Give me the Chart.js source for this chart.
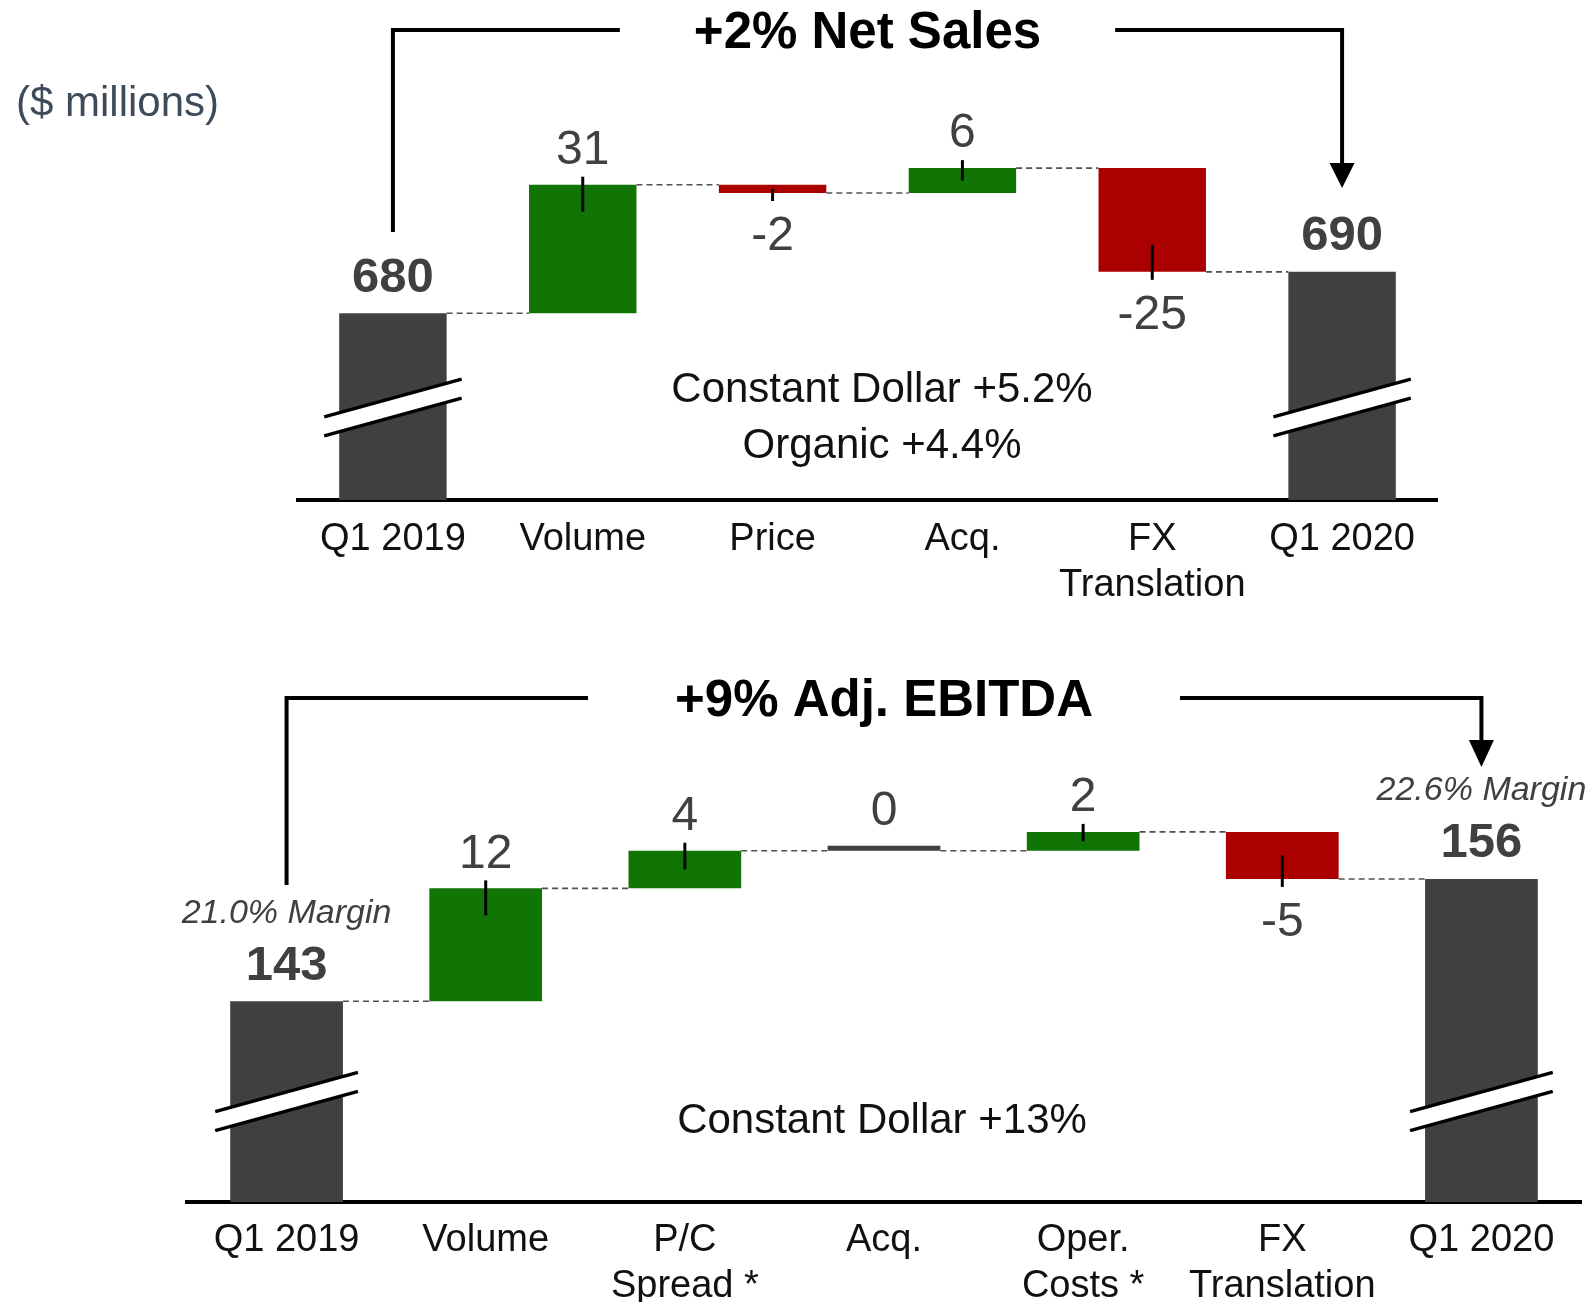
<!DOCTYPE html>
<html><head><meta charset="utf-8">
<script src="https://cdn.jsdelivr.net/npm/chart.js@4.4.1/dist/chart.umd.min.js"></script>
<style>
html,body{margin:0;padding:0;background:#fff;}
#wrap{position:relative;width:1589px;height:1304px;overflow:hidden;background:#fff;}
canvas{position:absolute;left:0;}
</style></head><body>
<div id="wrap">
<canvas id="sales" width="1589" height="610" style="top:0"></canvas>
<canvas id="ebitda" width="1589" height="694" style="top:610px"></canvas>
</div>
<script>
// ---------------- data ----------------
const unitsLabel = '($ millions)';

const salesCategories = ['Q1 2019', 'Volume', 'Price', 'Acq.', ['FX', 'Translation'], 'Q1 2020'];
const salesStart = 680;
const salesDeltas = [31, -2, 6, -25];
const salesEnd = 690;
const salesTitle = '+2% Net Sales';
const salesNotes = ['Constant Dollar +5.2%', 'Organic +4.4%'];
const salesAxisRange = [635.0, 726.6];

const ebitdaCategories = ['Q1 2019', 'Volume', ['P/C', 'Spread *'], 'Acq.', ['Oper.', 'Costs *'], ['FX', 'Translation'], 'Q1 2020'];
const ebitdaStart = 143;
const ebitdaDeltas = [12, 4, 0, 2, -5];
const ebitdaEnd = 156;
const ebitdaMargins = ['21.0% Margin', '22.6% Margin'];
const ebitdaTitle = '+9% Adj. EBITDA';
const ebitdaNotes = ['Constant Dollar +13%'];
const ebitdaAxisRange = [121.67, 168.64];

// ---------------- styles ----------------
const FONT = '"Liberation Sans", Arial, Helvetica, sans-serif';
const C_TOTAL = '#404040', C_UP = '#107505', C_DOWN = '#aa0000';
const TXT_DY = 3; // small vertical nudge of text

function strokeLine(ctx, x1, y1, x2, y2) {
  ctx.beginPath(); ctx.moveTo(x1, y1); ctx.lineTo(x2, y2); ctx.stroke();
}

const decoPlugin = {
  id: 'deco',
  afterDatasetsDraw(chart, args, o) {
    const ctx = chart.ctx, ys = chart.scales.y, xs = chart.scales.x, area = chart.chartArea;
    const tot = chart.getDatasetMeta(0).data, del = chart.getDatasetMeta(1).data;
    const n = o.levels.length;
    const geo = i => ((i === 0 || i === n - 1) ? tot[i] : del[i]).getProps(['x', 'y', 'base', 'width'], true);
    ctx.save();
    ctx.lineCap = 'butt';
    // dashed connectors
    ctx.strokeStyle = '#505050'; ctx.lineWidth = 1.6; ctx.setLineDash([6, 4]);
    for (let i = 0; i < n - 1; i++) {
      const a = geo(i), b = geo(i + 1), py = ys.getPixelForValue(o.levels[i]);
      strokeLine(ctx, a.x + a.width / 2, py, b.x - b.width / 2, py);
    }
    ctx.setLineDash([]);
    ctx.textAlign = 'center'; ctx.textBaseline = 'middle';
    // delta ticks + labels
    for (let i = 1; i < n - 1; i++) {
      const d = o.deltas[i - 1], g = geo(i);
      const top = Math.min(g.y, g.base), bot = Math.max(g.y, g.base), h = bot - top;
      ctx.strokeStyle = '#000'; ctx.lineWidth = 3;
      if (d > 0) strokeLine(ctx, g.x, top - 8, g.x, top + Math.min(27, h / 2));
      else if (d < 0) strokeLine(ctx, g.x, bot + 8, g.x, bot - Math.min(27, h / 2));
      ctx.fillStyle = '#404040'; ctx.font = '48px ' + FONT;
      const ty = d > 0 ? top - 37 : d < 0 ? bot + 41 : (top + bot) / 2 - 39;
      ctx.fillText(String(d), g.x, ty + TXT_DY);
    }
    // totals: break marks + labels
    [0, n - 1].forEach((i, k) => {
      const g = geo(i);
      const half = g.width / 2 + 15, dy = half * 0.275, yc = area.bottom - o.breakOffset, gap = 19;
      ctx.fillStyle = '#fff';
      ctx.beginPath();
      ctx.moveTo(g.x - half, yc + dy); ctx.lineTo(g.x + half, yc - dy);
      ctx.lineTo(g.x + half, yc - dy + gap); ctx.lineTo(g.x - half, yc + dy + gap);
      ctx.closePath(); ctx.fill();
      ctx.strokeStyle = '#000'; ctx.lineWidth = 3.5;
      strokeLine(ctx, g.x - half, yc + dy, g.x + half, yc - dy);
      strokeLine(ctx, g.x - half, yc + dy + gap, g.x + half, yc - dy + gap);
      ctx.fillStyle = '#404040'; ctx.font = 'bold 49px ' + FONT;
      ctx.fillText(String(o.totals[k]), g.x, g.y - 35);
      if (o.margins) {
        ctx.font = 'italic 34px ' + FONT;
        ctx.fillText(o.margins[k], g.x, g.y - 35 - 53);
      }
    });
    // bracket + title
    const b = o.bracket;
    const xl = xs.getPixelForValue(0), xr = xs.getPixelForValue(n - 1);
    const cx = (area.left + area.right) / 2;
    ctx.font = 'bold 51px ' + FONT; ctx.fillStyle = '#000';
    ctx.fillText(o.title, cx, b.y + 1 + TXT_DY);
    const tw = ctx.measureText(o.title).width;
    ctx.strokeStyle = '#000'; ctx.lineWidth = 4; ctx.lineJoin = 'miter';
    ctx.beginPath(); ctx.moveTo(xl, b.leftEnd); ctx.lineTo(xl, b.y); ctx.lineTo(cx - tw / 2 - b.pad, b.y); ctx.stroke();
    ctx.beginPath(); ctx.moveTo(cx + tw / 2 + b.pad, b.y); ctx.lineTo(xr, b.y); ctx.lineTo(xr, b.arrowBase); ctx.stroke();
    ctx.beginPath(); ctx.moveTo(xr - 12.5, b.arrowBase); ctx.lineTo(xr + 12.5, b.arrowBase); ctx.lineTo(xr, b.arrowTip); ctx.closePath(); ctx.fill();
    // notes
    ctx.font = '42px ' + FONT; ctx.fillStyle = '#111';
    o.notes.forEach((t, j) => ctx.fillText(t, o.notesX, o.notesY[j] + 2));
    // units
    if (o.units) {
      ctx.textAlign = 'left'; ctx.font = '42px ' + FONT; ctx.fillStyle = '#3d4b5b';
      ctx.fillText(o.units, 16, 104);
    }
    ctx.restore();
  }
};

function buildWaterfall(id, cats, start, deltas, end, range, pad, tickPad, extra) {
  const totals = cats.map((c, i) => i === 0 ? start : (i === cats.length - 1 ? end : null));
  let run = start;
  const ranges = [null], levels = [start], colors = [null];
  deltas.forEach(d => {
    ranges.push([run, run + d]); run += d; levels.push(run);
    colors.push(d > 0 ? C_UP : d < 0 ? C_DOWN : C_TOTAL);
  });
  ranges.push(null); levels.push(end); colors.push(null);
  const common = { grouped: false, barPercentage: 0.566, categoryPercentage: 1, borderWidth: 0 };
  return new Chart(document.getElementById(id), {
    type: 'bar',
    data: {
      labels: cats,
      datasets: [
        Object.assign({ data: totals, backgroundColor: C_TOTAL }, common),
        Object.assign({ data: ranges, backgroundColor: colors, minBarLength: 5 }, common)
      ]
    },
    options: {
      responsive: false, animation: false, devicePixelRatio: 1,
      layout: { padding: pad },
      plugins: {
        legend: { display: false }, tooltip: { enabled: false },
        deco: Object.assign({ levels: levels, deltas: deltas, totals: [start, end] }, extra)
      },
      scales: {
        x: {
          grid: { display: false, drawTicks: false },
          border: { display: true, color: '#000', width: 4 },
          ticks: { color: '#111', font: { family: FONT, size: 38 }, padding: tickPad, autoSkip: false, maxRotation: 0, minRotation: 0 },
          afterFit(s) { s.height = 100; }
        },
        y: { display: false, min: range[0], max: range[1] }
      }
    },
    plugins: [decoPlugin]
  });
}

buildWaterfall('sales', salesCategories, salesStart, salesDeltas, salesEnd, salesAxisRange,
  { left: 298, right: 152, top: 120, bottom: 10 }, 17,
  { title: salesTitle, notes: salesNotes, notesX: 882, notesY: [388, 444], breakOffset: 102,
    units: unitsLabel,
    bracket: { y: 30, leftEnd: 232, arrowBase: 163, arrowTip: 188, pad: 74 } });

buildWaterfall('ebitda', ebitdaCategories, ebitdaStart, ebitdaDeltas, ebitdaEnd, ebitdaAxisRange,
  { left: 187, right: 8, top: 150, bottom: 2 }, 16,
  { title: ebitdaTitle, notes: ebitdaNotes, notesX: 882, notesY: [509], breakOffset: 110,
    margins: ebitdaMargins,
    bracket: { y: 88, leftEnd: 275, arrowBase: 130, arrowTip: 157, pad: 87 } });
</script>
</body></html>
